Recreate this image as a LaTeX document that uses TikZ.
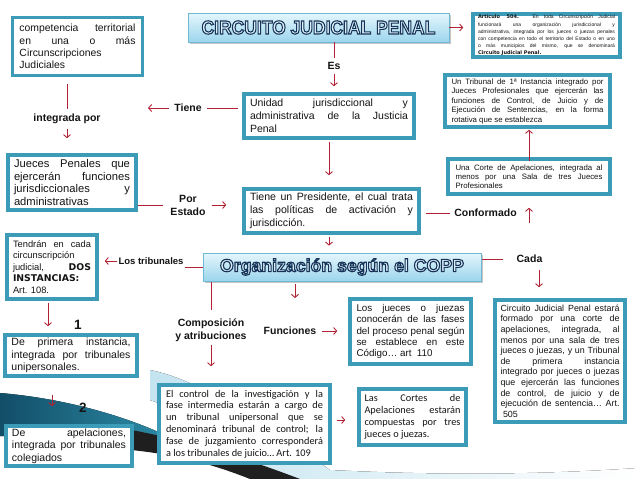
\documentclass[tikz,border=0pt]{standalone}
\usepackage{fontspec}
\setmainfont{Liberation Sans}
\newfontfamily\calfont{Carlito}
\newfontfamily\heavyfont{DejaVu Sans}
\usetikzlibrary{arrows.meta,shadows}
\hyphenpenalty=10000
\exhyphenpenalty=10000
\tolerance=10000
\setlength\parindent{0pt}
\definecolor{boxc}{RGB}{60,156,184}
\definecolor{arrc}{RGB}{178,34,52}
\definecolor{ttop}{RGB}{228,246,252}
\definecolor{tbot}{RGB}{156,213,236}
\definecolor{tbrd}{RGB}{110,185,212}
\definecolor{tealA}{RGB}{44,138,165}
\definecolor{tealB}{RGB}{18,78,104}
\definecolor{swl}{RGB}{196,228,240}
\newcommand\outl[1]{\special{pdf:code q 2 Tr 1.1 w 0.086 0.196 0.337 RG 0.86 0.94 0.98 rg}#1\special{pdf:code Q}}
\newcommand\fsz[2]{\fontsize{#1}{#2}\selectfont}
\begin{document}
\begin{tikzpicture}[x=1pt,y=-1pt,
  tbox/.style={draw=boxc, line width=3.6pt, fill=white, inner xsep=6pt, inner ysep=2pt, align=justify, text=black!92},
  lbl/.style={font=\fsz{10.5}{13}\bfseries, inner sep=1pt, align=center, text=black!92},
  ttl/.style={draw=tbrd, line width=0.8pt, top color=ttop, bottom color=tbot, inner sep=0pt,
    drop shadow={shadow xshift=2pt, shadow yshift=-2pt, fill=black!50, opacity=0.45}},
  conn/.style={draw=arrc, line width=0.9pt},
  arr/.style={conn, -{Straight Barb[length=3pt,width=7pt]}}]
\useasboundingbox (0,0) rectangle (638,479);
\fill[white] (0,0) rectangle (638,479);
% background swoosh
\fill[left color=swl, right color=white] (150,370) .. controls (200,380) and (260,420) .. (330,470) .. controls (450,476) and (550,474) .. (638,468) -- (638,479) -- (260,479) .. controls (220,440) and (180,410) .. (150,400) -- cycle;
\fill[left color=tealB, right color=tealA] (0,393) .. controls (60,398) and (120,414) .. (165,435) -- (165,452) .. controls (110,440) and (50,436) .. (0,436) -- cycle;
\fill[black!88] (120,428) .. controls (190,440) and (250,460) .. (300,479) -- (250,479) .. controls (210,463) and (170,453) .. (120,449) -- cycle;

% titles
\node[ttl, minimum width=261pt, minimum height=29pt] (t1) at (318.5,27.5)
  {\fsz{19}{19}\bfseries\scalebox{0.92}[1]{\outl{CIRCUITO JUDICIAL PENAL}}};
\node[ttl, minimum width=278pt, minimum height=28pt] (copp) at (342,267)
  {\fsz{17.7}{17.7}\bfseries\outl{Organización según el COPP}};

% boxes
\node[tbox, text width=137pt, minimum width=147pt, minimum height=43pt, inner xsep=5pt, inner ysep=0pt, font=\fsz{5}{7.2}] (art) at (546.5,35.5)
  {{\heavyfont\bfseries Artículo 504.} En toda Circunscripción Judicial\linebreak funcionará una organización jurisdiccional y\linebreak administrativa, integrada por los jueces o juezas penales\linebreak con competencia en todo el territorio del Estado o en uno\linebreak o más municipios del mismo, que se denominará\linebreak {\heavyfont\bfseries Circuito Judicial Penal.}};
\node[tbox, text width=116pt, minimum width=130pt, minimum height=58pt, font=\fsz{10.4}{12.3}] (boxA) at (77.5,46.5)
  {competencia territorial\linebreak en una o más\linebreak Circunscripciones\linebreak Judiciales};
\node[tbox, text width=158pt, minimum width=170pt, minimum height=44pt, font=\fsz{10.5}{13}] (unidad) at (329,116)
  {Unidad jurisdiccional y\linebreak administrativa de la Justicia\linebreak Penal};
\node[tbox, text width=152pt, minimum width=165pt, minimum height=52pt, font=\fsz{7.8}{9.5}] (tribunal) at (527.5,101)
  {Un Tribunal de 1ª Instancia integrado por\linebreak Jueces Profesionales que ejercerán las\linebreak funciones de Control, de Juicio y de\linebreak Ejecución de Sentencias, en la forma\linebreak rotativa que se establezca};
\node[tbox, text width=147pt, minimum width=162pt, minimum height=35pt, font=\fsz{7.8}{9.2}] (unacorte) at (529,176.5)
  {Una Corte de Apelaciones, integrada al\linebreak menos por una Sala de tres Jueces\linebreak Profesionales};
\node[tbox, text width=116pt, minimum width=128pt, minimum height=55pt, font=\fsz{11.2}{12.5}] (jueces) at (72,182.5)
  {Jueces Penales que\linebreak ejercerán funciones\linebreak jurisdiccionales y\linebreak administrativas};
\node[tbox, text width=163pt, minimum width=175pt, minimum height=44pt, font=\fsz{10.6}{13}] (pres) at (331.5,211)
  {Tiene un Presidente, el cual trata\linebreak las políticas de activación y\linebreak jurisdicción.};
\node[tbox, text width=78pt, minimum width=90pt, minimum height=64pt, font=\fsz{9.3}{11.5}] (tendran) at (52,267)
  {Tendrán en cada\linebreak circunscripción\linebreak judicial, {\heavyfont\bfseries DOS}\linebreak {\heavyfont\bfseries INSTANCIAS:}\linebreak Art. 108.};
\node[tbox, text width=108pt, minimum width=121pt, minimum height=65pt, font=\fsz{9.8}{11.3}] (losjueces) at (410.5,331.5)
  {Los jueces o juezas\linebreak conocerán de las fases\linebreak del proceso penal según\linebreak se establece en este\linebreak Código… art~ 110};
\node[tbox, text width=119pt, minimum width=130pt, minimum height=122pt, inner xsep=5.5pt, font=\fsz{8.9}{10.6}] (circuito) at (560,361)
  {Circuito Judicial Penal estará\linebreak formado por una corte de\linebreak apelaciones, integrada, al\linebreak menos por una sala de tres\linebreak jueces o juezas, y un Tribunal\linebreak de primera instancia\linebreak integrado por jueces o juezas\linebreak que ejercerán las funciones\linebreak de control, de juicio y de\linebreak ejecución de sentencia… Art.\linebreak \hspace*{2.5pt}505};
\node[tbox, text width=119pt, minimum width=132pt, minimum height=41pt, font=\fsz{10.5}{12.5}] (primera) at (71,355.5)
  {De primera instancia,\linebreak integrada por tribunales\linebreak unipersonales.};
\node[tbox, text width=114pt, minimum width=126pt, minimum height=40pt, font=\fsz{10.5}{12.3}] (apel) at (69,446)
  {De apelaciones,\linebreak integrada por tribunales\linebreak colegiados};
\node[tbox, text width=157pt, minimum width=171pt, minimum height=78pt, inner xsep=7pt, font=\calfont\fsz{10.3}{11.8}] (elcontrol) at (244.5,424)
  {El control de la investigación y la\linebreak fase intermedia estarán a cargo de\linebreak un tribunal unipersonal que se\linebreak denominará tribunal de control; la\linebreak fase de juzgamiento corresponderá\linebreak a los tribunales de juicio… Art. 109};
\node[tbox, text width=96pt, minimum width=107pt, minimum height=56pt, inner xsep=5.5pt, font=\calfont\fsz{10.3}{12}] (lascortes) at (412.5,417)
  {Las Cortes de\linebreak Apelaciones estarán\linebreak compuestas por tres\linebreak jueces o juezas.};

% labels
\node[lbl] (es) at (334,66) {Es};
\node[lbl] (tiene) at (188,108) {Tiene};
\node[lbl] (integ) at (67,119) {integrada por};
\node[lbl] (pe) at (188,205) {Por\\Estado};
\node[lbl] (conf) at (485.5,213) {Conformado};
\node[lbl, font=\fsz{9.5}{12}\bfseries] (lostrib) at (151,261) {Los tribunales};
\node[lbl] (cada) at (529.5,259) {Cada};
\node[lbl] (compos) at (211,330.5) {Composición\\y atribuciones};
\node[lbl] (func) at (290,331) {Funciones};
\node[lbl, font=\fsz{13.5}{14}\bfseries] (n1) at (78,325) {1};
\node[lbl, font=\fsz{13.5}{14}\bfseries] (n2) at (83,408) {2};

% free ends
\coordinate (tieneEnd) at (148,108);
\coordinate (confA) at (529,223);
\coordinate (cadaA) at (539,270);
\coordinate (coppB) at (295,298);

% connectors
\draw[arr, shorten >=8pt] (t1.east) -- (art.west |- t1.east);
\draw[conn, shorten >=3pt] (t1.south -| es) -- (es.north);
\draw[arr, shorten <=3pt, shorten >=6pt] (es.south) -- (es.south |- unidad.north);
\draw[conn, shorten <=4pt, shorten >=4pt] (tiene.east) -- (tiene.east -| unidad.west);
\draw[arr, shorten <=4pt] (tiene.west) -- (tieneEnd);
\draw[conn, shorten <=7pt, shorten >=4pt] (integ.north |- boxA.south) -- (integ.north);
\draw[arr, shorten <=4pt, shorten >=15pt] (integ.south) -- (integ.south |- jueces.north);
\draw[conn, shorten >=6pt] (jueces.east |- pe) -- (pe.west);
\draw[arr, shorten <=5pt, shorten >=16pt] (pe.east) -- (pe.east -| pres.west);
\draw[arr, shorten <=2pt, shorten >=12pt] (unidad.south) -- (unidad.south |- pres.north);
\draw[arr, shorten <=2pt, shorten >=7pt] (unidad.south |- pres.south) -- (unidad.south |- copp.north);
\draw[conn, shorten <=5pt, shorten >=3pt] (pres.east |- conf) -- (conf.west);
\draw[arr, shorten >=12pt] (confA) -- (confA |- unacorte.south);
\draw[arr, shorten <=-4pt, shorten >=1pt] (unacorte.north) -- (unacorte.north |- tribunal.south);
\draw[conn] (copp.west) -- (copp.west -| lostrib.east);
\draw[arr, shorten >=6pt] (lostrib.west) -- (lostrib.west -| tendran.east);
\draw[conn, shorten <=1pt, shorten >=8pt] (copp.south -| compos) -- (compos.north);
\draw[arr, shorten <=2pt, shorten >=17pt] (compos.south) -- (compos.south |- elcontrol.north);
\draw[arr, shorten <=3pt] (copp.south -| coppB) -- (coppB);
\draw[arr, shorten <=5pt, shorten >=11pt] (func.east) -- (func.east -| losjueces.west);
\draw[conn, shorten <=1pt, shorten >=12pt] (copp.east |- cada) -- (cada.west);
\draw[arr, shorten >=11pt] (cadaA) -- (cadaA |- circuito.north);
\draw[arr, shorten <=2pt, shorten >=7pt] ([xshift=-4pt]tendran.south) -- ([xshift=-4pt]tendran.south |- primera.north);
\draw[arr, shorten <=17pt, shorten >=18pt] ([xshift=-19pt]primera.south) -- ([xshift=-19pt]primera.south |- apel.north);
\draw[arr, shorten <=5pt, shorten >=12pt] ([yshift=4pt]elcontrol.east) -- ([yshift=4pt]elcontrol.east -| lascortes.west);
\end{tikzpicture}
\end{document}
